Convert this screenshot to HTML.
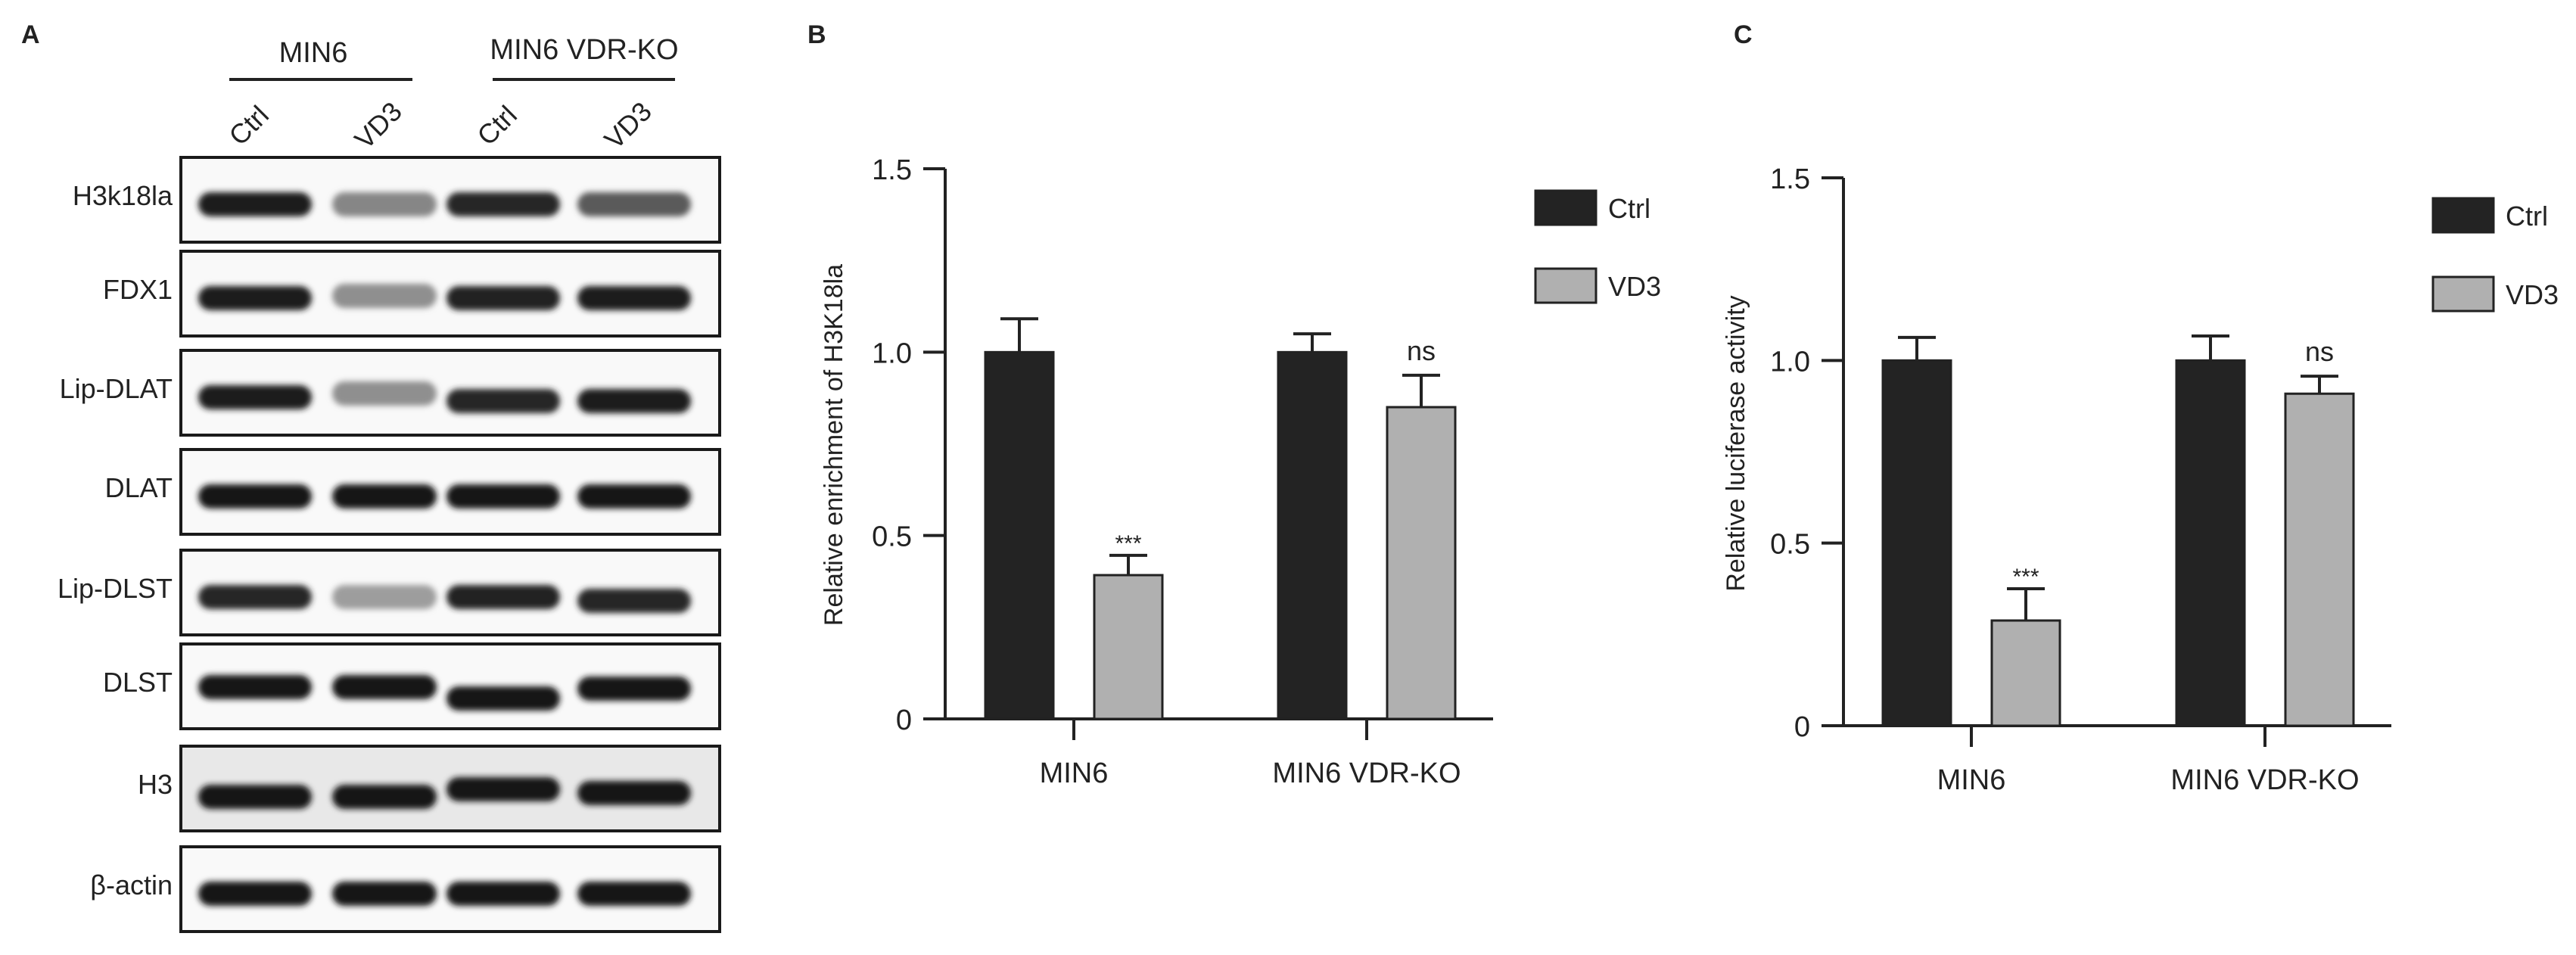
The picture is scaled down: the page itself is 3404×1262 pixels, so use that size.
<!DOCTYPE html>
<html><head><meta charset="utf-8"><style>
html,body{margin:0;padding:0;background:#fff}
svg{display:block}
text{font-family:"Liberation Sans",Arial,sans-serif;fill:#222}
</style></head><body>
<svg id="fig" width="3404" height="1262" viewBox="0 0 3404 1262" xmlns="http://www.w3.org/2000/svg">
<defs>
<filter id="blur" x="-20%" y="-100%" width="140%" height="300%"><feGaussianBlur stdDeviation="4"/></filter>
</defs>
<g id="panelA">
<text x="28" y="57" font-size="34" font-weight="bold">A</text>
<text x="414" y="82" font-size="38" text-anchor="middle">MIN6</text>
<line x1="303" y1="105" x2="545" y2="105" stroke="#222" stroke-width="4"/>
<text x="772" y="78" font-size="38" text-anchor="middle">MIN6 VDR-KO</text>
<line x1="651" y1="105" x2="892" y2="105" stroke="#222" stroke-width="4"/>
</g>
<g id="panelB"></g>
<g id="panelC"></g>
</svg>
<script>
const NS='http://www.w3.org/2000/svg';
function mk(parent,tag,attrs,txt){const e=document.createElementNS(NS,tag);for(const k in attrs)e.setAttribute(k,attrs[k]);if(txt!==undefined)e.textContent=txt;parent.appendChild(e);return e;}

// ---- Blot data ----
const blotLabels=['H3k18la','FDX1','Lip-DLAT','DLAT','Lip-DLST','DLST','H3','β-actin'];
const laneLabels=['Ctrl','VD3','Ctrl','VD3'];
const bandIntensity=[[0.95,0.35,0.9,0.6],[0.95,0.3,0.92,0.95],[0.95,0.3,0.9,0.95],[1,1,1,1],[0.9,0.22,0.92,0.9],[1,1,1,1],[1,1,1,1],[1,1,1,1]];
const bandOffsetY=[[0,0,0,0],[0,-3,0,0],[0,-5,5,5],[0,0,0,0],[0,0,0,5],[-5,-5,10,-3],[5,5,-5,0],[0,0,0,0]];

const A=document.getElementById('panelA');
const rowTop=[208,332,463,594,727,851,986,1119];
const laneX=[337,508,665,838];
const laneW=[150,138,150,150];
laneLabels.forEach((l,i)=>{
  const t=mk(A,'text',{x:laneX[i]-8,y:178,'font-size':36,'text-anchor':'middle',transform:`rotate(-45 ${laneX[i]-8} 166)`},l);
  
  
});
blotLabels.forEach((lab,r)=>{
  const top=rowTop[r];
  const g=mk(A,'g',{});
  
  
  const bg=mk(g,'rect',{x:239,y:top,width:712,height:112,fill:r===6?'#e8e8e8':'#f9f9f9',stroke:'#1a1a1a','stroke-width':4});
  
  
  const t=mk(g,'text',{x:228,y:top+63,'font-size':36,'text-anchor':'end'},lab);
  
  
  laneX.forEach((cx,i)=>{
    const v=bandIntensity[r][i];
    const shade=Math.round(20+(1-v)*175);
    const b=mk(g,'rect',{x:cx-laneW[i]/2,y:top+62+bandOffsetY[r][i]-16,width:laneW[i],height:32,rx:16,fill:`rgb(${shade},${shade},${shade})`,filter:'url(#blur)'});
    
    
  });
});

// ---- Bar chart data ----
const categories=['MIN6','MIN6 VDR-KO'];
const seriesNames=['Ctrl','VD3'];
const yTicks=[0,0.5,1.0,1.5];
const yTickLabels=['0','0.5','1.0','1.5'];
const bCtrl=[1.0,1.0];
const bCtrlErr=[0.091,0.05];
const bVD3=[0.392,0.85];
const bVD3Err=[0.054,0.087];
const bSig=['***','ns'];
const cCtrl=[1.0,1.0];
const cCtrlErr=[0.063,0.067];
const cVD3=[0.288,0.909];
const cVD3Err=[0.087,0.048];
const cSig=['***','ns'];

function chart(id,cfg){
  const g=document.getElementById(id);
  const y=v=>cfg.y0-(v/1.5)*(cfg.y0-cfg.y15);
  const lab=mk(g,'text',{x:cfg.letterX,y:57,'font-size':34,'font-weight':'bold'},cfg.letter);
  
  
  const ya=mk(g,'line',{x1:cfg.ax,y1:y(1.5),x2:cfg.ax,y2:cfg.y0+2,stroke:'#222','stroke-width':4});
  
  
  const xa=mk(g,'line',{x1:cfg.ax-29,y1:cfg.y0,x2:cfg.axEnd,y2:cfg.y0,stroke:'#222','stroke-width':4});
  
  
  yTicks.forEach((v,i)=>{
    const tk=mk(g,'line',{x1:cfg.ax-29,y1:y(v),x2:cfg.ax,y2:y(v),stroke:'#222','stroke-width':4});
    
    
    const tl=mk(g,'text',{x:cfg.ax-44,y:y(v)+14,'font-size':38,'text-anchor':'end'},yTickLabels[i]);
    
    
  });
  const yt=mk(g,'text',{x:cfg.titleX,y:cfg.titleY,'font-size':34,'text-anchor':'middle',transform:`rotate(-90 ${cfg.titleX} ${cfg.titleY})`},cfg.title);
  
  
  const groupW=cfg.groupW, bw=cfg.bw;
  categories.forEach((c,i)=>{
    const cx=cfg.cat0+i*groupW;
    const tk=mk(g,'line',{x1:cx,y1:cfg.y0,x2:cx,y2:cfg.y0+28,stroke:'#222','stroke-width':4});
    
    
    const cl=mk(g,'text',{x:cx,y:cfg.y0+84,'font-size':38,'text-anchor':'middle'},c);
    
    
    [[cfg.ctrl,cfg.ctrlErr,'#232323',-1],[cfg.vd3,cfg.vd3Err,'#b0b0b0',1]].forEach((s,k)=>{
      const bx=cx+s[3]*cfg.off-bw/2;
      const v=s[0][i], e=s[1][i];
      const el=mk(g,'line',{x1:bx+bw/2,y1:y(v),x2:bx+bw/2,y2:y(v+e),stroke:'#222','stroke-width':4});
      
      
      const cap=mk(g,'line',{x1:bx+bw/2-25,y1:y(v+e),x2:bx+bw/2+25,y2:y(v+e),stroke:'#222','stroke-width':4});
      
      
      const r=mk(g,'rect',{x:bx,y:y(v),width:bw,height:y(0)-y(v),fill:s[2],stroke:'#222','stroke-width':3});
      
      
      if(k===1){
        const sg=cfg.sig[i];
        const st=mk(g,'text',{x:bx+bw/2,y:y(v+e)-(sg==='ns'?20:6),'font-size':sg==='ns'?36:30,'text-anchor':'middle'},sg);
        
        
      }
    });
  });
  seriesNames.forEach((n,k)=>{
    const ly=cfg.legY+k*cfg.legGap;
    const lr=mk(g,'rect',{x:cfg.legX,y:ly,width:80,height:45,fill:k?'#b0b0b0':'#232323',stroke:'#222','stroke-width':3});
    
    
    const lt=mk(g,'text',{x:cfg.legX+96,y:ly+36,'font-size':36},n);
    
    
  });
}
chart('panelB',{letter:'B',letterX:1067,ax:1249,axEnd:1973,y0:950,y15:223,title:'Relative enrichment of H3K18la',titleX:1113,titleY:588,
  cat0:1419,groupW:387,off:72,bw:90,ctrl:bCtrl,ctrlErr:bCtrlErr,vd3:bVD3,vd3Err:bVD3Err,sig:bSig,legX:2029,legY:252,legGap:103});
chart('panelC',{letter:'C',letterX:2291,ax:2436,axEnd:3160,y0:959,y15:235,title:'Relative luciferase activity',titleX:2305,titleY:586,
  cat0:2605,groupW:388,off:72,bw:90,ctrl:cCtrl,ctrlErr:cCtrlErr,vd3:cVD3,vd3Err:cVD3Err,sig:cSig,legX:3215,legY:262,legGap:104});
</script>
</body></html>
